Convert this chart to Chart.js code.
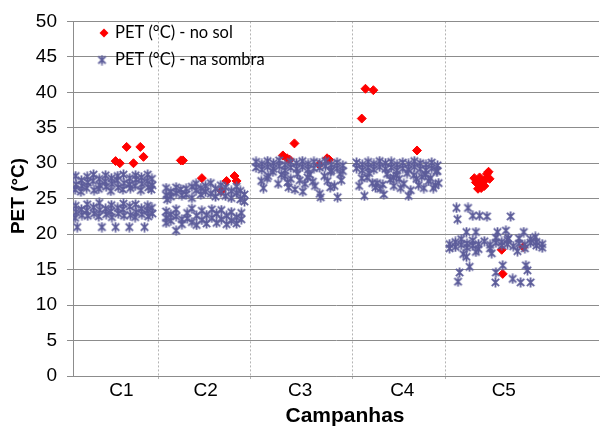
<!DOCTYPE html>
<html>
<head>
<meta charset="utf-8">
<script src="https://cdn.jsdelivr.net/npm/chart.js@4/dist/chart.umd.min.js"></script>
<style>
html,body{margin:0;padding:0;background:#fff;}
#wrap{width:605px;height:430px;}
</style>
</head>
<body>
<div id="wrap"><canvas id="c" width="605" height="430"></canvas></div>
<script>
// ---- Data ----
const categories = ['C1', 'C2', 'C3', 'C4', 'C5'];
const categoryLabelPos = [9.2, 25.2, 43.2, 62.6, 81.9];
const categoryBounds = [16.2, 33.7, 53.1, 70.8];
const yTicks = [0, 5, 10, 15, 20, 25, 30, 35, 40, 45, 50];
const seriesNames = ['PET (°C) - no sol', 'PET (°C) - na sombra'];

const solC1 = [[8.1,30.3],[8.9,30.0],[10.2,32.3],[11.5,30.0],[12.8,32.3],[13.4,30.9]];
const solC2 = [[20.5,30.4],[20.9,30.4],[24.5,27.9],[28.2,26.1],[29.2,27.5],[30.7,28.2],[31.1,27.5]];
const solC3 = [[39.9,31.1],[40.7,30.7],[41.2,30.5],[42.1,32.8],[46.8,29.8],[48.3,30.7],[48.7,30.5]];
const solC4 = [[54.9,36.3],[55.6,40.5],[57.1,40.3],[65.4,31.8]];
const solC5 = [[76.3,27.9],[77.3,28.0],[77.9,27.3],[78.5,27.8],[79.0,28.8],[79.2,27.8],[77.0,26.4],[77.6,26.5],[78.2,26.8],[77.6,27.1],[78.7,28.5],[76.6,27.3],[81.5,17.8],[85.6,18.2],[81.7,14.4]];

const sombraC1 = [
 [0.5,28.2],[0.6,27.0],[0.4,26.3],[1.6,27.6],[1.7,26.8],[1.5,26.0],[2.7,28.1],[2.8,27.3],[2.6,26.5],
 [3.9,28.4],[3.8,27.5],[4.0,26.2],[5.0,27.8],[5.1,26.9],[4.9,26.4],[6.2,28.3],[6.1,27.4],[6.3,26.7],
 [7.3,27.9],[7.4,27.1],[7.2,26.1],[8.5,28.2],[8.4,27.6],[8.6,26.6],[9.6,28.4],[9.7,27.2],[9.5,26.3],
 [10.8,27.9],[10.7,27.0],[10.9,26.5],[11.9,28.3],[12.0,27.7],[11.8,26.8],[13.0,28.0],[13.1,27.1],[12.9,26.2],
 [14.2,28.4],[14.1,27.5],[14.3,26.6],[15.0,27.8],[15.1,26.9],[14.9,26.3],
 [0.5,24.0],[0.6,23.1],[0.4,22.3],[1.6,23.5],[1.7,22.7],[2.7,24.2],[2.6,23.3],[2.8,22.6],[3.9,23.8],[4.0,22.9],
 [5.0,24.4],[5.1,23.4],[4.9,22.5],[6.2,23.6],[6.3,22.8],[7.3,24.1],[7.2,23.2],[7.4,22.4],[8.5,23.7],[8.6,22.9],
 [9.6,24.3],[9.5,23.5],[9.7,22.6],[10.8,23.9],[10.9,22.7],[11.9,24.2],[12.0,23.1],[11.8,22.4],[13.0,23.6],[13.1,22.8],
 [14.2,24.0],[14.1,23.3],[14.3,22.5],[15.0,23.7],[15.1,22.9],
 [0.8,21.0],[5.5,21.0],[8.1,21.0],[10.7,21.0],[13.6,21.0]
];
const sombraC2 = [
 [17.7,26.5],[17.7,25.5],[17.9,24.9],[18.6,26.0],[18.6,25.3],[19.6,26.6],[19.6,25.8],[20.7,25.5],[20.5,26.3],
 [21.5,26.4],[21.5,25.6],[22.6,25.1],[22.6,26.7],[23.4,27.1],[23.4,26.2],[24.3,26.5],[24.3,25.6],[25.2,26.8],
 [25.2,26.0],[26.2,27.2],[26.2,25.7],[27.1,26.4],[27.1,25.3],[28.1,26.9],[28.1,25.9],[29.0,26.6],[29.0,25.4],
 [30.1,26.1],[30.1,25.1],[31.1,26.7],[31.1,25.8],[31.8,26.1],[31.8,24.9],[32.6,25.6],[32.6,24.6],
 [17.7,23.2],[17.7,22.3],[17.7,21.6],[18.6,22.8],[18.6,21.9],[19.6,23.5],[19.6,22.5],[19.6,20.5],[20.7,22.1],
 [20.7,21.4],[21.7,23.0],[21.7,22.2],[22.6,23.6],[22.6,21.7],[23.5,22.6],[23.5,21.3],[24.5,23.3],[24.5,22.0],
 [25.4,22.7],[25.4,21.5],[26.4,23.5],[26.4,22.3],[27.3,22.9],[27.3,21.6],[28.2,23.4],[28.2,22.1],[29.2,22.6],
 [29.2,21.4],[30.1,23.1],[30.1,21.9],[31.1,22.4],[31.1,21.5],[32.0,23.0],[32.0,22.1]
];
const sombraC3 = [
 [34.8,30.2],[34.8,29.4],[35.9,29.9],[35.9,29.1],[37.0,30.3],[37.0,29.5],[38.1,30.0],[38.1,29.2],
 [39.2,30.4],[39.2,29.6],[40.3,29.8],[40.3,29.0],[41.4,30.2],[41.4,29.4],[42.5,30.0],[42.5,29.2],
 [43.6,30.3],[43.6,29.5],[44.7,29.9],[44.7,29.1],[45.8,30.2],[45.8,29.3],[46.9,30.0],[46.9,29.4],
 [48.0,30.3],[48.0,29.6],[49.1,29.8],[49.1,29.0],[50.2,30.1],[50.2,29.3],[51.3,29.7],[51.3,28.9],
 [35.8,27.5],[36.2,26.5],[37.1,28.2],[38.0,28.8],[39.0,27.1],[40.3,28.2],[41.0,26.6],[41.4,27.8],
 [42.2,26.3],[42.7,28.5],[43.7,26.0],[44.1,27.1],[45.0,28.4],[46.0,26.8],[46.9,25.7],[47.1,25.2],
 [48.4,27.5],[49.0,28.8],[49.7,26.8],[50.3,25.2],[50.8,28.5],
 [36.9,27.9],[39.6,28.4],[40.8,27.3],[43.1,27.6],[44.6,28.0],[45.6,27.4],[47.8,28.2],[48.9,26.6],[51.0,27.6]
];
const sombraC4 = [
 [53.9,30.1],[53.9,29.3],[55.0,29.8],[55.0,29.0],[56.1,30.2],[56.1,29.4],[57.2,29.9],[57.2,29.1],
 [58.3,30.3],[58.3,29.5],[59.4,30.0],[59.4,29.2],[60.5,30.2],[60.5,29.4],[61.6,29.8],[61.6,29.0],
 [62.7,30.1],[62.7,29.3],[63.8,29.9],[63.8,29.1],[64.9,30.3],[64.9,29.5],[66.0,30.0],[66.0,29.2],
 [67.1,29.8],[67.1,29.0],[68.2,30.1],[68.2,29.3],[69.3,29.7],[69.3,28.9],
 [54.4,26.8],[55.4,25.4],[55.9,28.0],[56.9,27.2],[57.8,27.2],[58.4,26.4],[59.1,25.6],[59.7,28.5],
 [60.3,27.7],[61.0,26.8],[62.0,27.8],[62.9,27.1],[63.5,28.6],[63.8,25.4],[64.8,28.3],[65.3,27.8],
 [65.7,26.9],[66.7,26.5],[67.6,27.5],[68.5,26.5],[69.1,28.9],
 [54.9,27.9],[58.9,27.0],[61.5,28.3],[64.2,26.2],[66.3,28.1],[68.0,27.9],[69.5,27.2],
 [56.3,28.6],[57.5,26.6],[60.9,28.0],[62.3,26.5],[67.0,28.4],[68.9,26.9]
];
const sombraC5 = [
 [72.9,23.7],[75.1,23.7],[73.1,22.1],[76.0,22.6],[77.3,22.6],[78.7,22.5],[83.2,22.5],
 [71.6,18.6],[71.6,18.0],[72.7,18.9],[72.7,18.2],[73.8,18.5],[73.8,19.3],[74.9,18.7],[74.9,18.1],
 [76.0,18.4],[76.0,19.1],[77.1,18.6],[77.1,17.9],[78.2,19.0],[79.3,18.5],[79.3,18.0],[80.4,18.8],
 [80.4,19.5],[81.5,18.4],[81.5,18.9],[82.6,18.6],[82.6,19.2],[83.7,18.3],[84.8,18.7],[84.8,19.4],
 [85.9,18.5],[85.9,18.0],[87.0,18.8],[87.0,19.3],[88.1,18.4],[88.1,18.9],[89.2,18.6],[89.2,18.1],
 [74.8,20.3],[76.6,20.3],[80.7,20.3],[82.3,20.5],[82.8,19.4],[85.7,20.3],[87.9,19.6],
 [74.2,17.2],[74.8,16.8],[76.6,17.5],[79.6,17.3],[84.5,17.6],
 [75.4,15.4],[73.5,14.6],[73.2,13.3],[80.4,14.6],[80.3,13.2],[83.6,13.7],[85.1,13.2],[87.0,13.2],
 [86.1,15.6],[86.4,14.9],[81.7,15.6]
];

// ---- Build ----
const RED = '#ff0000';
const BLUE = '#5c5c9a';
const toPts = arr => arr.map(p => ({x: p[0], y: p[1]}));
const solData = [solC1, solC2, solC3, solC4, solC5].flatMap(toPts);
const sombraData = [sombraC1, sombraC2, sombraC3, sombraC4, sombraC5].flatMap(toPts);

function makeStar(color) {
  const c = document.createElement('canvas');
  c.width = 11; c.height = 11;
  const g = c.getContext('2d');
  g.strokeStyle = color; g.lineWidth = 1.8; g.lineCap = 'butt';
  g.beginPath();
  g.moveTo(1.8, 1.8); g.lineTo(9.2, 9.2);
  g.moveTo(9.2, 1.8); g.lineTo(1.8, 9.2);
  g.moveTo(5.5, 0.5); g.lineTo(5.5, 10.5);
  g.stroke();
  return c;
}
const starImg = makeStar(BLUE);

const xTickValues = [...categoryBounds, ...categoryLabelPos].sort((a, b) => a - b);
const isBound = v => categoryBounds.includes(v);

const overlay = {
  id: 'overlay',
  afterDraw(chart) {
    const ctx = chart.ctx;
    ctx.save();
    // legend
    ctx.fillStyle = RED;
    ctx.beginPath();
    ctx.moveTo(104, 28.5); ctx.lineTo(108.5, 33); ctx.lineTo(104, 37.5); ctx.lineTo(99.5, 33); ctx.closePath();
    ctx.fill();
    ctx.drawImage(starImg, 102 - 5.5, 60 - 5.5);
    ctx.fillStyle = '#000';
    ctx.font = '16.5px Lato';
    ctx.textBaseline = 'middle';
    ctx.textAlign = 'left';
    ctx.fillText(seriesNames[0], 115, 33);
    ctx.fillText(seriesNames[1], 115, 60);
    // axis titles
    ctx.font = 'bold 21px "Liberation Sans", Arial';
    ctx.textAlign = 'center';
    ctx.fillText('Campanhas', 345, 416);
    ctx.translate(19, 196);
    ctx.rotate(-Math.PI / 2);
    ctx.font = 'bold 19px "Liberation Sans", Arial';
    ctx.fillText('PET (°C)', 0, 0);
    ctx.restore();
  }
};

new Chart(document.getElementById('c'), {
  type: 'scatter',
  data: {
    datasets: [
      {
        label: seriesNames[1], data: sombraData, order: 0,
        pointStyle: starImg, pointRadius: 5, backgroundColor: BLUE, borderColor: BLUE
      },
      {
        label: seriesNames[0], data: solData, order: 1,
        pointStyle: 'rectRot', pointRadius: 4.5, borderWidth: 1,
        backgroundColor: RED, borderColor: RED
      }
    ]
  },
  options: {
    responsive: false,
    animation: false,
    layout: { padding: { top: 20, right: 1, left: 0, bottom: 0 } },
    plugins: { legend: { display: false }, tooltip: { enabled: false } },
    scales: {
      x: {
        type: 'linear', min: 0, max: 100,
        afterBuildTicks: s => { s.ticks = xTickValues.map(v => ({ value: v })); },
        afterFit: s => { s.height = 54; },
        ticks: {
          autoSkip: false, maxRotation: 0, padding: 0,
          color: '#000',
          font: { family: '"Liberation Sans", Arial', size: 19, lineHeight: 1 },
          callback: v => { const i = categoryLabelPos.indexOf(v); return i >= 0 ? categories[i] : ''; }
        },
        grid: {
          color: c => (c.tick && isBound(c.tick.value)) ? '#b4b4b4' : 'rgba(0,0,0,0)',
          tickColor: c => (c.tick && isBound(c.tick.value)) ? '#b4b4b4' : 'rgba(0,0,0,0)',
          tickLength: 5, lineWidth: 1, tickBorderDash: [2, 2]
        },
        border: { display: true, color: '#8c8c8c', dash: [2, 2] }
      },
      y: {
        min: 0, max: 50,
        afterBuildTicks: s => { s.ticks = yTicks.map(v => ({ value: v })); },
        afterFit: s => { s.width = 73; },
        ticks: {
          padding: 10, color: '#000',
          font: { family: '"Liberation Sans", Arial', size: 19 }
        },
        grid: { color: '#8c8c8c', tickColor: '#8c8c8c', tickLength: 6, lineWidth: 1 },
        border: { display: true, color: '#8c8c8c' }
      }
    }
  },
  plugins: [overlay]
});
</script>
</body>
</html>
